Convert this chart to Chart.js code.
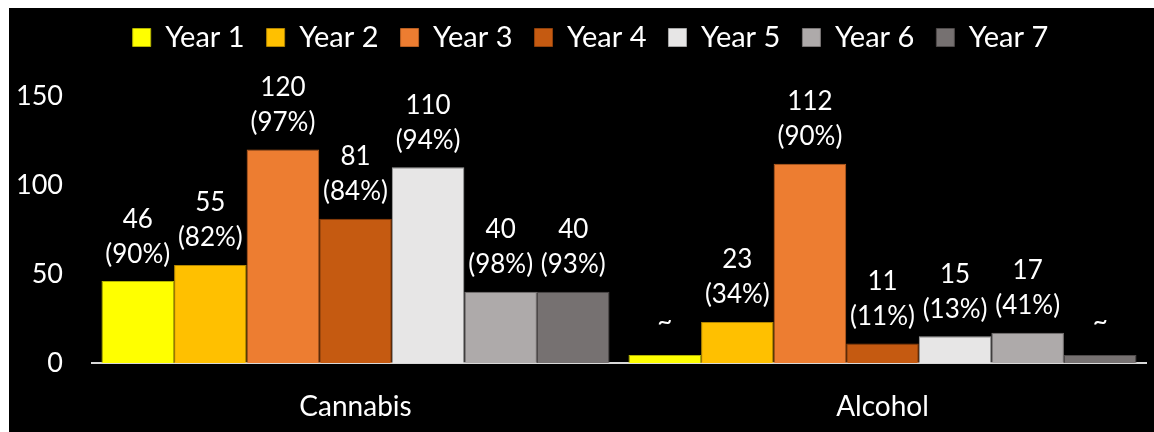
<!DOCTYPE html>
<html>
<head>
<meta charset="utf-8">
<script src="https://cdn.jsdelivr.net/npm/chart.js@4.4.1/dist/chart.umd.min.js"></script>
<style>
    html, body { margin: 0; padding: 0; background: #ffffff; }
    #chartContainer {
        position: absolute;
        left: 9px;
        top: 8px;
        width: 1145px;
        height: 424px;
        background: #000000;
    }
</style>
</head>
<body>
<div id="chartContainer">
    <canvas id="substanceChart" width="1145" height="424"></canvas>
</div>
<script>
const categories = ['Cannabis', 'Alcohol'];
const years = ['Year 1', 'Year 2', 'Year 3', 'Year 4', 'Year 5', 'Year 6', 'Year 7'];
// counts per year; tiny alcohol bars are suppressed values shown as "~"
const cannabisCounts = [46, 55, 120, 81, 110, 40, 40];
const alcoholCounts = [4.5, 23, 112, 11, 15, 17, 4.5];
const cannabisPct = [90, 82, 97, 84, 94, 98, 93];
const alcoholPct = [null, 34, 90, 11, 13, 41, null];
const yTicks = [0, 50, 100, 150];

const fillColors = ['#ffff00', '#ffc000', '#ed7d31', '#c55a11', '#e7e6e6', '#aeaaaa', '#767171'];
const edgeColors = ['#b3b300', '#b38600', '#b85f22', '#8f410c', '#a5a5a5', '#7a7676', '#4f4b4b'];
const fontFamily = 'Lato, "Open Sans", sans-serif';

const barLabels = {
    id: 'barLabels',
    beforeLayout(chart) {
        // keep the legend band tall enough that the plot starts where the original does
        const lg = chart.legend;
        if (lg && !lg._fixedHeight) {
            const fit = lg.fit.bind(lg);
            lg.fit = function () {
                fit();
                this.height = 88;
            };
            lg._fixedHeight = true;
        }
    },
    afterLayout(chart) {
        // nudge the legend row a bit right and up
        const lg = chart.legend;
        lg.left += 13;
        lg.right += 13;
        lg.top -= 7;
        lg.bottom -= 7;
    },
    afterDatasetsDraw(chart) {
        const ctx = chart.ctx;
        ctx.save();
        ctx.fillStyle = '#ffffff';
        ctx.font = '26px ' + fontFamily;
        ctx.textAlign = 'center';
        ctx.textBaseline = 'middle';
        chart.data.datasets.forEach((ds, i) => {
            const meta = chart.getDatasetMeta(i);
            meta.data.forEach((bar, j) => {
                const pct = j === 0 ? cannabisPct[i] : alcoholPct[i];
                const count = j === 0 ? cannabisCounts[i] : alcoholCounts[i];
                if (pct === null) {
                    ctx.fillText('~', bar.x, bar.y - 33);
                } else {
                    ctx.fillText(String(count), bar.x, bar.y - 62);
                    ctx.fillText('(' + pct + '%)', bar.x, bar.y - 27);
                }
            });
        });
        ctx.restore();
    }
};

function createChart() {
    const ctx = document.getElementById('substanceChart').getContext('2d');
    return new Chart(ctx, {
        type: 'bar',
        data: {
            labels: categories,
            datasets: years.map((year, i) => ({
                label: year,
                data: [cannabisCounts[i], alcoholCounts[i]],
                backgroundColor: fillColors[i],
                borderColor: edgeColors[i],
                borderWidth: 1,
                categoryPercentage: 0.964,
                barPercentage: 1
            }))
        },
        options: {
            responsive: false,
            animation: false,
            layout: { padding: { top: 0, right: 8, bottom: 0, left: 0 } },
            scales: {
                x: {
                    grid: { display: false, drawTicks: false },
                    border: { display: true, color: '#d9d9d9', width: 2 },
                    ticks: {
                        color: '#ffffff',
                        padding: 27,
                        font: { family: fontFamily, size: 28 }
                    },
                    afterFit: function (scale) { scale.height = 69; }
                },
                y: {
                    min: 0,
                    max: 150,
                    grid: { display: false, drawTicks: false },
                    border: { display: false },
                    afterBuildTicks: function (scale) {
                        scale.ticks = yTicks.map(v => ({ value: v }));
                    },
                    ticks: {
                        color: '#ffffff',
                        padding: 29,
                        font: { family: fontFamily, size: 27 }
                    },
                    afterFit: function (scale) { scale.width = 83; }
                }
            },
            plugins: {
                legend: {
                    position: 'top',
                    labels: {
                        color: '#ffffff',
                        boxWidth: 18,
                        boxHeight: 18,
                        padding: 22,
                        font: { family: fontFamily, size: 29 }
                    }
                },
                tooltip: { enabled: false }
            }
        },
        plugins: [barLabels]
    });
}

createChart();
</script>
</body>
</html>
